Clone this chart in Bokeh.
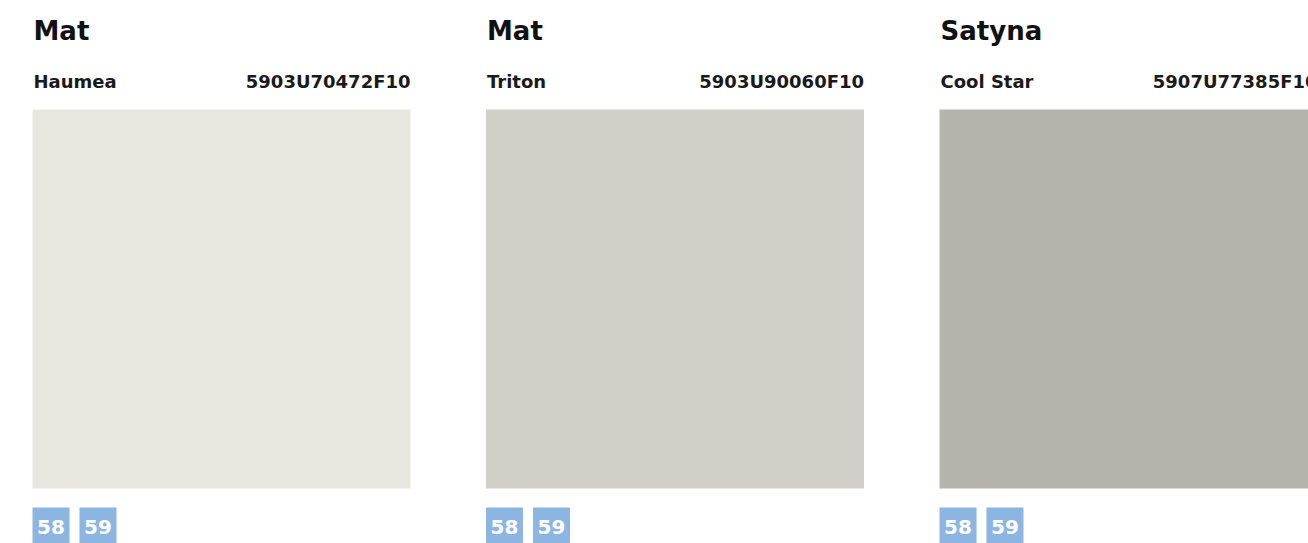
from bokeh.plotting import figure
from bokeh.models import Range1d, ColumnDataSource
from bokeh.core.properties import value
from bokeh.embed import file_html
from bokeh.resources import INLINE

# ---- data ----
finishes = ["Mat", "Mat", "Satyna"]
names = ["Haumea", "Triton", "Cool Star"]
codes = ["5903U70472F10", "5903U90060F10", "5907U77385F10"]
swatch_colors = ["#e8e7df", "#d0d0c8", "#b4b4ac"]
pages = [["58", "59"], ["58", "59"], ["58", "59"]]

# ---- layout (page pixel coordinates) ----
W, H = 1308, 543
PITCH = 453.5
X0 = 32
SW = 378
FONT = "DejaVu Sans"
BADGE = "#8cb5e1"

p = figure(width=W, height=H, output_backend="svg", toolbar_location=None,
           x_range=Range1d(0, W), y_range=Range1d(H, 0),
           min_border=0, outline_line_color=None, background_fill_color="white",
           border_fill_color="white")
p.axis.visible = False
p.grid.visible = False

lefts = [X0 + i * PITCH for i in range(len(names))]

sw = ColumnDataSource(dict(left=lefts, right=[l + SW for l in lefts],
                           top=[109] * len(lefts), bottom=[488] * len(lefts),
                           color=swatch_colors))
p.quad(left="left", right="right", top="top", bottom="bottom", fill_color="color",
       line_color=None, source=sw)

p.text(x=[l + 1 for l in lefts], y=[30] * len(lefts), text=finishes,
       text_font=value(FONT), text_font_size="26px", text_font_style="bold",
       text_color="#111111", text_baseline="middle", text_align="left")
p.text(x=[l + 1 for l in lefts], y=[81] * len(lefts), text=names,
       text_font=value(FONT), text_font_size="18px", text_font_style="bold",
       text_color="#1a1a1a", text_baseline="middle", text_align="left")
p.text(x=[l + SW for l in lefts], y=[81] * len(lefts), text=codes,
       text_font=value(FONT), text_font_size="18px", text_font_style="bold",
       text_color="#1a1a1a", text_baseline="middle", text_align="right")

bl, br, bx, btxt = [], [], [], []
for i, l in enumerate(lefts):
    for j, pg in enumerate(pages[i]):
        left = l + j * 47
        bl.append(left)
        br.append(left + 37)
        bx.append(left + 18.5)
        btxt.append(pg)
bs = ColumnDataSource(dict(left=bl, right=br, top=[507] * len(bl), bottom=[544] * len(bl)))
p.quad(left="left", right="right", top="top", bottom="bottom", fill_color=BADGE,
       line_color=None, source=bs)
p.text(x=bx, y=[526] * len(bx), text=btxt, text_font=value(FONT), text_font_size="20px",
       text_font_style="bold", text_color="white", text_baseline="middle",
       text_align="center")

open("out.html", "w").write(file_html(p, INLINE))
